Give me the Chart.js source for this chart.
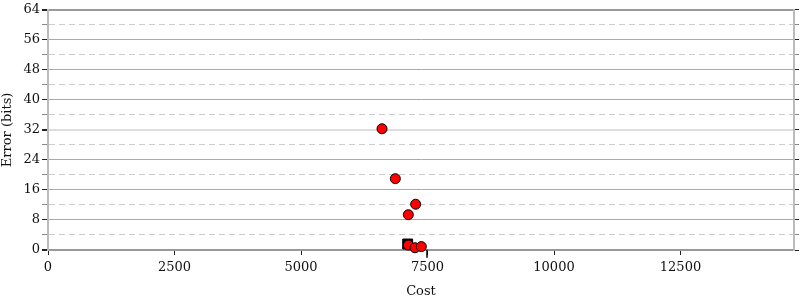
<!DOCTYPE html>
<html>
<head>
<meta charset="utf-8">
<script src="https://cdn.jsdelivr.net/npm/chart.js@4"></script>
<style>
  html, body { margin: 0; padding: 0; background: #fff; }
  #wrap { width: 800px; height: 300px; }
</style>
</head>
<body>
<div id="wrap"><canvas id="myChart"></canvas></div>
<script>
// alternatives found (cost vs error bits)
const altCost = [6601, 6864, 7266, 7121, 7121, 7253, 7378];
const altError = [32.3, 19.0, 12.2, 9.4, 1.3, 0.6, 0.9];
// the chosen program
const bestCost = [7108];
const bestError = [1.6];
// initial program cost marker on the x axis
const startCost = [7490];
const startError = [-1];

const xTicks = [0, 2500, 5000, 7500, 10000, 12500];
const yMax = 64;
const xMax = 14743;

function pts(xs, ys) {
  return xs.map((x, i) => ({x: x, y: ys[i]}));
}

function tv(c) { return c.tick ? c.tick.value : null; }

const font = {family: 'DejaVu Serif', size: 13};

const ctx = document.getElementById('myChart').getContext('2d');
const myChart = new Chart(ctx, {
  type: 'scatter',
  data: {
    datasets: [
      {
        label: 'alternatives',
        data: pts(altCost, altError),
        pointStyle: 'circle',
        pointRadius: 5,
        pointBackgroundColor: '#ff0000',
        pointBorderColor: '#000',
        pointBorderWidth: 1,
        clip: false
      },
      {
        label: 'best',
        data: pts(bestCost, bestError),
        pointStyle: 'rect',
        pointRadius: 7,
        pointBackgroundColor: '#000',
        pointBorderColor: '#000',
        pointBorderWidth: 1,
        clip: false
      },
      {
        label: 'start',
        data: pts(startCost, startError),
        pointStyle: 'line',
        rotation: 90,
        pointRadius: 4,
        pointBorderColor: '#000',
        pointBorderWidth: 1.5,
        clip: false
      }
    ]
  },
  options: {
    responsive: true,
    maintainAspectRatio: false,
    animation: false,
    events: [],
    layout: { padding: {top: 7, right: 0, bottom: 0, left: 0}, autoPadding: false },
    plugins: { legend: {display: false}, tooltip: {enabled: false} },
    scales: {
      x: {
        type: 'linear',
        position: 'bottom',
        min: 0, max: xMax,
        afterBuildTicks: s => { s.ticks = xTicks.map(v => ({value: v})); },
        afterFit: s => { s.height = 50; },
        ticks: { font: font, color: '#111', padding: 5, maxRotation: 0, autoSkip: false, callback: v => v },
        grid: { drawOnChartArea: false, tickLength: 5, tickColor: '#222', tickWidth: 1 },
        border: { color: '#999', width: 2 },
        title: { display: true, text: 'Cost', font: font, color: '#111', padding: {top: 4, bottom: 1} }
      },
      y: {
        type: 'linear',
        position: 'left',
        min: 0, max: yMax,
        afterFit: s => { s.width = 48; },
        ticks: {
          stepSize: 4, font: font, color: '#111', padding: 2, autoSkip: false,
          callback: v => (v % 8 === 0 ? v : '')
        },
        grid: {
          color: c => {
            const v = tv(c);
            if (v === 0 || v === 64) return '#999';
            if (v === 32) return '#ddd';
            return v % 8 === 0 ? '#aaa' : '#ccc';
          },
          lineWidth: c => {
            const v = tv(c);
            return (v === 0 || v === 64 || v === 32) ? 2 : 1;
          },
          tickColor: c => (tv(c) % 8 === 0 ? '#222' : '#888'),
          tickLength: 6
        },
        border: {
          color: '#bbb', width: 2,
          dash: c => (c.tick && c.tick.value % 8 !== 0 ? [6, 4] : [])
        },
        title: { display: true, text: 'Error (bits)', font: font, color: '#111', padding: {top: 0, bottom: 2} }
      },
      y2: {
        type: 'linear',
        position: 'right',
        min: 0, max: yMax,
        afterFit: s => { s.width = 6; },
        ticks: { stepSize: 4, display: false, autoSkip: false },
        grid: {
          drawOnChartArea: false,
          tickLength: 5,
          tickColor: c => (tv(c) % 8 === 0 ? '#222' : '#888')
        },
        border: { color: '#bbb', width: 2 }
      }
    }
  }
});
</script>
</body>
</html>
